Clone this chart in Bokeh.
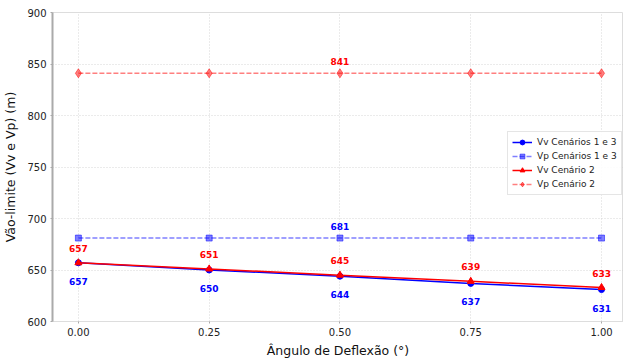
from bokeh.plotting import figure
from bokeh.models import FixedTicker, NumeralTickFormatter, ColumnDataSource, Legend, LegendItem, Range1d
from bokeh.core.properties import value
from bokeh.embed import file_html
from bokeh.resources import INLINE

# ---- data ----
angulos = [0.00, 0.25, 0.50, 0.75, 1.00]
vv_cen13 = [657, 650, 644, 637, 631]
vp_cen13 = [681, 681, 681, 681, 681]
vv_cen2 = [657, 651, 645, 639, 633]
vp_cen2 = [841, 841, 841, 841, 841]
x_ticks = [0.00, 0.25, 0.50, 0.75, 1.00]
y_ticks = [600, 650, 700, 750, 800, 850, 900]
series_names = ["Vv Cenários 1 e 3", "Vp Cenários 1 e 3", "Vv Cenário 2", "Vp Cenário 2"]

FONT = "DejaVu Sans"
BLUE = "#0000ff"
RED = "#ff0000"

p = figure(width=623, height=360, output_backend="svg", toolbar_location=None,
           x_range=Range1d(-0.0495, 1.042), y_range=Range1d(600, 900),
           min_border_left=50, min_border_right=0, min_border_top=12, min_border_bottom=37)

p.outline_line_color = "#dddddd"
p.outline_line_width = 1

# grid
for g in (p.xgrid, p.ygrid):
    g.grid_line_color = "#cccccc"
    g.grid_line_dash = "1 2"
    g.grid_line_width = 0.8

# axes
p.xaxis.ticker = FixedTicker(ticks=x_ticks)
p.xaxis.formatter = NumeralTickFormatter(format="0.00")
p.yaxis.ticker = FixedTicker(ticks=y_ticks)
for ax in (p.xaxis[0], p.yaxis[0]):
    ax.major_label_text_font = FONT
    ax.major_label_text_font_size = "10px"
    ax.major_label_text_color = "#222222"
    ax.axis_label_text_font = FONT
    ax.axis_label_text_font_size = "12.5px"
    ax.axis_label_text_font_style = "normal"
    ax.axis_label_text_color = "#111111"
    ax.minor_tick_line_color = None
    ax.major_tick_in = 0
    ax.major_tick_out = 2
    ax.major_tick_line_color = "#aaaaaa"
p.xaxis.axis_line_color = "#dddddd"
p.yaxis.axis_line_color = "#aaaaaa"
p.yaxis.axis_line_width = 2
p.xaxis.axis_label = "Ângulo de Deflexão (°)"
p.yaxis.axis_label = "Vão-limite (Vv e Vp) (m)"
p.xaxis.major_label_standoff = 4
p.yaxis.major_label_standoff = 4
p.xaxis.axis_label_standoff = 4
p.yaxis.axis_label_standoff = 6

# series
src = ColumnDataSource(dict(x=angulos, vv13=vv_cen13, vp13=vp_cen13, vv2=vv_cen2, vp2=vp_cen2))

l_vp2 = p.line("x", "vp2", source=src, line_color=RED, line_alpha=0.5, line_width=1.5, line_dash="5 2")
m_vp2 = p.scatter("x", "vp2", source=src, marker="diamond", size=9, fill_color=RED, line_color=RED,
                  fill_alpha=0.5, line_alpha=0.5)
l_vp13 = p.line("x", "vp13", source=src, line_color=BLUE, line_alpha=0.5, line_width=1.5, line_dash="5 2")
m_vp13 = p.scatter("x", "vp13", source=src, marker="square", size=6, fill_color=BLUE, line_color=BLUE,
                   fill_alpha=0.5, line_alpha=0.5)
l_vv13 = p.line("x", "vv13", source=src, line_color=BLUE, line_width=1.5)
m_vv13 = p.scatter("x", "vv13", source=src, marker="circle", size=6, fill_color=BLUE, line_color=BLUE)
l_vv2 = p.line("x", "vv2", source=src, line_color=RED, line_width=1.5)
m_vv2 = p.scatter("x", "vv2", source=src, marker="triangle", size=7, fill_color=RED, line_color=RED)

# value labels
lab_kw = dict(text_font=value(FONT), text_font_size="9px", text_font_style="bold",
              text_align="center", text_baseline="middle")
p.text(x=angulos, y=vv_cen13, text=[str(v) for v in vv_cen13], text_color=BLUE, y_offset=18.5, **lab_kw)
p.text(x=angulos, y=vv_cen2, text=[str(v) for v in vv_cen2], text_color=RED, y_offset=-14.5, **lab_kw)
p.text(x=[angulos[2]], y=[vp_cen13[2]], text=[str(vp_cen13[2])], text_color=BLUE, y_offset=-12, **lab_kw)
p.text(x=[angulos[2]], y=[vp_cen2[2]], text=[str(vp_cen2[2])], text_color=RED, y_offset=-12, **lab_kw)

legend = Legend(items=[
    LegendItem(label=series_names[0], renderers=[l_vv13, m_vv13]),
    LegendItem(label=series_names[1], renderers=[l_vp13, m_vp13]),
    LegendItem(label=series_names[2], renderers=[l_vv2, m_vv2]),
    LegendItem(label=series_names[3], renderers=[l_vp2, m_vp2]),
], location=(455, 126))
legend.label_text_font = FONT
legend.label_text_font_size = "9px"
legend.label_text_color = "#222222"
legend.glyph_width = 20
legend.glyph_height = 12
legend.label_height = 12
legend.label_standoff = 5
legend.spacing = 2
legend.padding = 4
legend.margin = 0
legend.border_line_color = "#cccccc"
legend.border_line_width = 1
legend.background_fill_alpha = 0.9
p.add_layout(legend, "center")

open("out.html", "w").write(file_html(p, INLINE))
